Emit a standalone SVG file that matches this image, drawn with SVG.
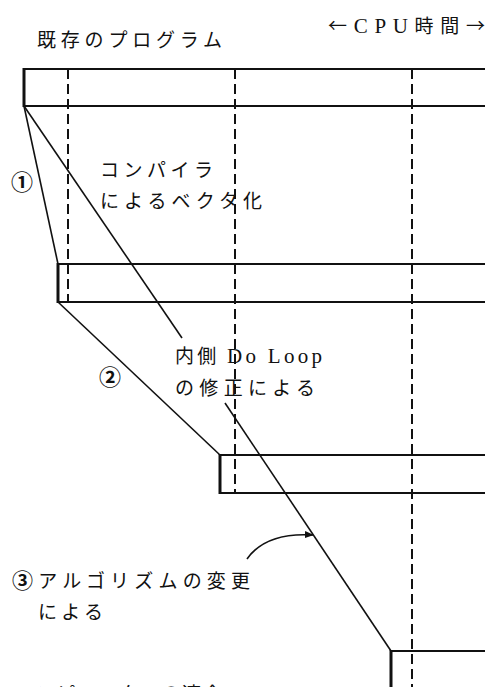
<svg xmlns="http://www.w3.org/2000/svg" width="485" height="687" viewBox="0 0 485 687">
<style>
.bar{fill:none;stroke:#111;stroke-width:2.2}
.edge{stroke:#111;stroke-width:3;fill:none}
.dash{stroke:#111;stroke-width:2;stroke-dasharray:10 5;fill:none}
.ln{stroke:#111;stroke-width:1.6;fill:none}
.t{font-family:"Noto Sans CJK JP","Noto Sans",sans-serif;font-size:19px;fill:#111}
.s{font-family:"Liberation Serif",serif;font-size:21px}
.b{font-weight:bold;font-size:21px}
.c{font-family:"Noto Sans CJK JP",sans-serif;font-size:22px;font-weight:bold;fill:#111;text-anchor:middle}
</style>
<defs>
<marker id="ah" viewBox="0 0 10 10" refX="9" refY="5" markerWidth="9" markerHeight="9" orient="auto" markerUnits="userSpaceOnUse">
<path d="M0,1 L10,5 L0,9 Z" fill="#111"/>
</marker>
</defs>
<rect width="485" height="687" fill="#fff"/>
<g id="dashes">
<line class="dash" x1="68" y1="69" x2="68" y2="303"/>
<line class="dash" x1="235" y1="69" x2="235" y2="493"/>
<line class="dash" x1="412" y1="69" x2="412" y2="687"/>
</g>
<g id="bar1">
<line class="bar" x1="24" y1="69" x2="485" y2="69"/>
<line class="bar" x1="24" y1="106" x2="485" y2="106"/>
<line class="edge" x1="24" y1="68" x2="24" y2="107"/>
</g>
<g id="bar2">
<line class="bar" x1="58" y1="264" x2="485" y2="264"/>
<line class="bar" x1="58" y1="302" x2="485" y2="302"/>
<line class="edge" x1="58" y1="263" x2="58" y2="303"/>
</g>
<g id="bar3">
<line class="bar" x1="220" y1="455" x2="485" y2="455"/>
<line class="bar" x1="220" y1="493" x2="485" y2="493"/>
<line class="edge" x1="220" y1="454" x2="220" y2="494"/>
</g>
<g id="bar4">
<line class="bar" x1="391" y1="651" x2="485" y2="651"/>
<line class="edge" x1="391" y1="650" x2="391" y2="687"/>
</g>
<g id="connectors">
<line class="ln" x1="24" y1="106" x2="58" y2="264"/>
<line class="ln" x1="58" y1="302" x2="220" y2="455"/>
<line class="ln" x1="24" y1="106" x2="182" y2="338"/>
<line class="ln" x1="225" y1="403" x2="391" y2="651"/>
<path class="ln" d="M247,559 Q266,532 313,535" marker-end="url(#ah)"/>
</g>
<g id="labels">
<text class="t" x="328" y="33" textLength="157" lengthAdjust="spacing">←<tspan class="s">CPU</tspan>時間→</text>
<text class="t" x="37" y="47" textLength="185" lengthAdjust="spacing">既存のプログラム</text>
<text class="c" x="22" y="190">①</text>
<text class="t" x="100" y="177" textLength="113" lengthAdjust="spacing">コンパイラ</text>
<text class="t" x="100" y="208" textLength="162" lengthAdjust="spacing">によるベクタ化</text>
<text class="c" x="110" y="385">②</text>
<text class="t" x="175" y="363" textLength="147" lengthAdjust="spacing">内側 <tspan class="s">Do Loop</tspan></text>
<text class="t" x="175" y="395" textLength="140" lengthAdjust="spacing">の修正による</text>
<text class="t" x="12" y="588" textLength="238" lengthAdjust="spacing"><tspan class="b">③</tspan>アルゴリズムの変更</text>
<text class="t" x="38" y="619" textLength="65" lengthAdjust="spacing">による</text>
<text class="t" x="15" y="701" textLength="207" lengthAdjust="spacing">コンピュータへの適合</text>
</g>
</svg>
